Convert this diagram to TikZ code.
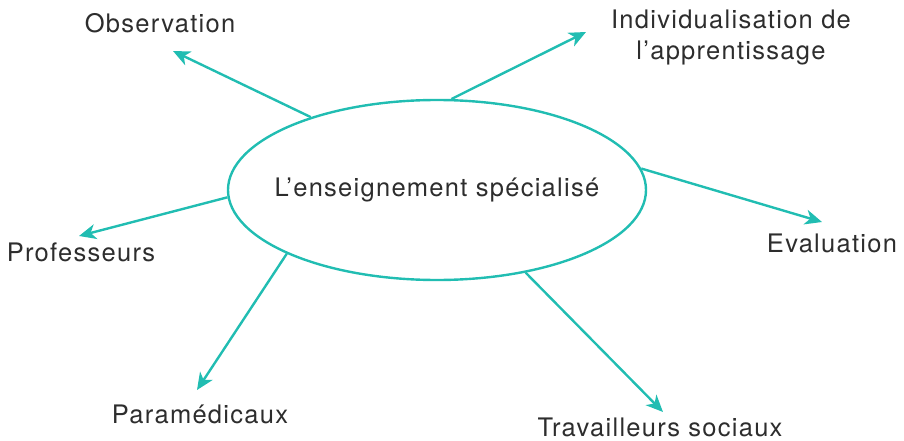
\documentclass[tikz,border=0pt]{standalone}
\usepackage{fontspec}
\setmainfont{TeX Gyre Heros}[LetterSpace=5]
\usetikzlibrary{shapes.geometric,arrows.meta}
\definecolor{teal1}{RGB}{33,189,178}
\definecolor{txt}{RGB}{45,45,45}
\begin{document}
\begin{tikzpicture}[x=1pt,y=-1pt,
  lbl/.style={font=\fontsize{25.5}{30}\selectfont, text=txt, inner sep=0pt, align=center},
  conn/.style={draw=teal1, line width=2.4pt, -{Stealth[length=17pt,width=15pt,inset=5pt]}}]
\useasboundingbox (0,0) rectangle (904,441);
\node[ellipse, draw=teal1, line width=2.4pt, minimum width=418pt, minimum height=180pt, inner sep=0pt, lbl] (e) at (437,190) {\makebox[0pt]{L’enseignement spécialisé}};
\node[lbl] (obs) at (160,23) {Observation};
\node[lbl] (ind) at (731,37) {Individualisation de\\[1pt]l’apprentissage};
\node[lbl] (eva) at (832,243) {Evaluation};
\node[lbl] (tra) at (660,427) {Travailleurs sociaux};
\node[lbl] (par) at (200,414) {Paramédicaux};
\node[lbl] (pro) at (81,252) {Professeurs};
\coordinate (tobs) at (173,51);
\coordinate (tind) at (586,32);
\coordinate (teva) at (822,222);
\coordinate (ttra) at (663,412);
\coordinate (tpar) at (197,390);
\coordinate (tpro) at (79,236);
\draw[conn] (e.150.6) -- (tobs);
\draw[conn] (e.81.5) -- (tind);
\draw[conn] (e.6.2) -- (teva);
\draw[conn] (e.-43.2) -- (ttra);
\draw[conn] (e.-157.1) -- (tpar);
\draw[conn] (e.182.2) -- (tpro);
\end{tikzpicture}
\end{document}
